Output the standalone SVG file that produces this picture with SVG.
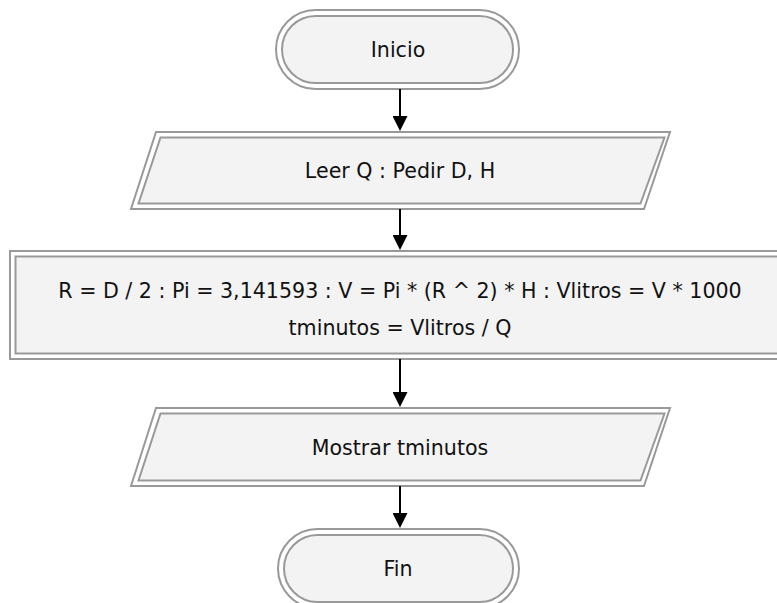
<svg xmlns="http://www.w3.org/2000/svg" width="777" height="603" viewBox="0 0 777 603">
<defs>
<style>
.o{fill:#ffffff;stroke:#999999;stroke-width:2}
.i{fill:#f3f3f3;stroke:#999999;stroke-width:2}
.t{font-family:"DejaVu Sans",Verdana,sans-serif;font-size:20.6px;fill:#111111;text-anchor:middle}
.c{stroke:#000000;stroke-width:2;fill:none}
</style>
<marker id="ah" viewBox="0 0 15 15" refX="1" refY="7.5" markerWidth="15" markerHeight="15" markerUnits="userSpaceOnUse" orient="auto">
<path d="M0,0 L15,7.5 L0,15 Z" fill="#000000"/>
</marker>
</defs>
<rect width="777" height="603" fill="#ffffff"/>
<g id="inicio">
<rect class="o" x="276" y="10" width="243" height="79" rx="39.5" ry="39.5"/>
<rect class="i" x="282" y="16" width="231" height="67" rx="33.5" ry="33.5"/>
<text class="t" x="398" y="57">Inicio</text>
</g>
<g id="leer">
<polygon class="o" points="156,132 670,132 644,209 131,209"/>
<polygon class="i" points="160.5,137.5 664.5,137.5 640.5,203.5 138.5,203.5"/>
<text class="t" x="400" y="178">Leer Q : Pedir D, H</text>
</g>
<g id="proceso">
<rect class="o" x="10" y="251" width="780" height="108"/>
<rect class="i" x="15.5" y="256.5" width="769" height="97"/>
<text class="t" x="400" y="298">R = D / 2 : Pi = 3,141593 : V = Pi * (R ^ 2) * H : Vlitros = V * 1000</text>
<text class="t" x="400" y="335">tminutos = Vlitros / Q</text>
</g>
<g id="mostrar">
<polygon class="o" points="156,408 670,408 644,486 131,486"/>
<polygon class="i" points="160.5,413.5 664.5,413.5 640.5,480.5 138.5,480.5"/>
<text class="t" x="400" y="455">Mostrar tminutos</text>
</g>
<g id="fin">
<rect class="o" x="278" y="529" width="241" height="79" rx="39.5" ry="39.5"/>
<rect class="i" x="284" y="535" width="229" height="67" rx="33.5" ry="33.5"/>
<text class="t" x="398" y="576">Fin</text>
</g>
<g id="connectors">
<line class="c" x1="400" y1="89" x2="400" y2="117" marker-end="url(#ah)"/>
<line class="c" x1="400" y1="209" x2="400" y2="236" marker-end="url(#ah)"/>
<line class="c" x1="400" y1="359" x2="400" y2="393" marker-end="url(#ah)"/>
<line class="c" x1="400" y1="486" x2="400" y2="514" marker-end="url(#ah)"/>
</g>
</svg>
